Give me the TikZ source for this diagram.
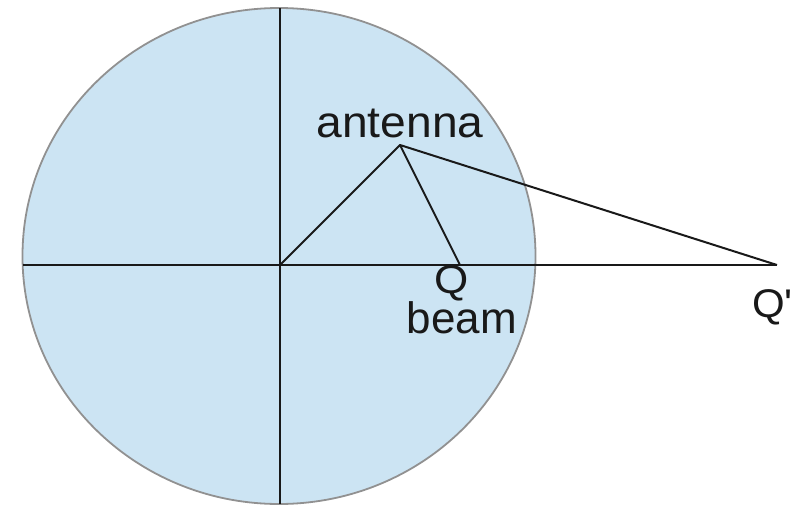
\documentclass[tikz,border=0pt]{standalone}
\usepackage{fontspec}
\setmainfont{Liberation Sans}
\newfontfamily\plainsans{Liberation Sans}
\definecolor{diskfill}{RGB}{204,228,243}
\definecolor{diskedge}{RGB}{145,145,145}
\definecolor{ink}{RGB}{25,25,25}
\begin{document}
\begin{tikzpicture}[x=1pt,y=-1pt,
  disk/.style={fill=diskfill,draw=diskedge,line width=1.8pt},
  axis/.style={draw=ink,line width=1.8pt},
  ray/.style={draw=ink,line width=2pt,line join=round},
  lbl/.style={anchor=base,inner sep=0pt,text=ink,font=\fontsize{44}{48}\selectfont},
  lblq/.style={anchor=base,inner sep=0pt,text=ink,font=\plainsans\fontsize{40}{44}\selectfont}]
\useasboundingbox (0,0) rectangle (798,506);
\draw[disk] (279,256) ellipse [x radius=256.5, y radius=248];
\coordinate (O) at (280,265);
\coordinate (A) at (400,145);
\coordinate (Q) at (460,265);
\coordinate (Qp) at (777,265);
\coordinate (L) at (22.7,265);
\coordinate (T) at (280,8);
\coordinate (B) at (280,504);
\draw[axis] (L) -- (Qp);
\draw[axis] (T) -- (B);
\draw[ray] (O) -- (A) -- (Q);
\draw[ray] (A) -- (Qp);
\node[lbl,xscale=1.05] (antlbl) at (400,137) {antenna};
\node[lblq,xscale=1.1] (qlbl) at (452,293) {Q};
\node[lbl] (beamlbl) at (462,333) {beam};
\node[lblq,xscale=1.05,anchor=base west] (qplbl) at (752,317) {Q'};
\end{tikzpicture}
\end{document}
